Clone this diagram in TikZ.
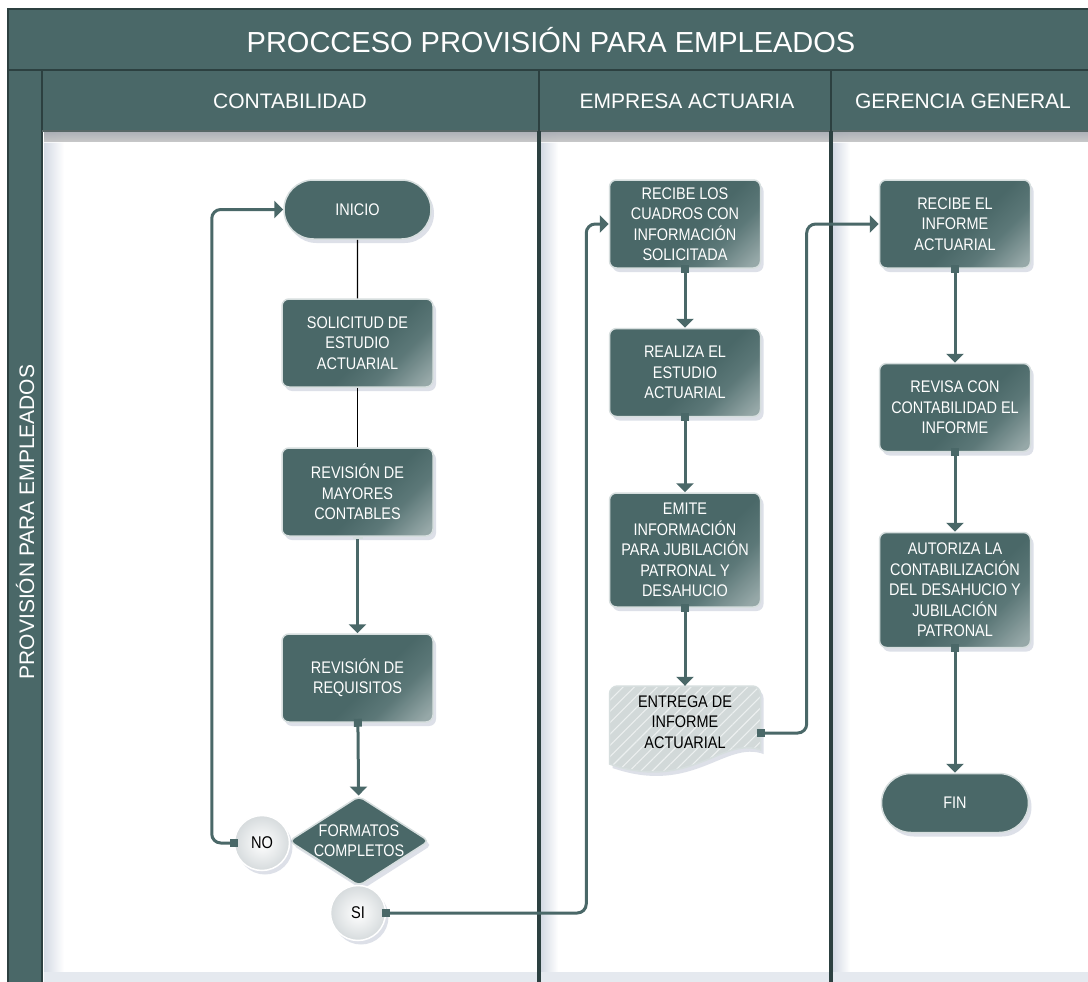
\documentclass[tikz,border=0pt]{standalone}
\usepackage{fontspec}
\setmainfont{Liberation Sans}
\newfontfamily\boxfont{Liberation Sans}[FakeStretch=0.86]
\usetikzlibrary{arrows.meta,shapes.geometric,shapes.misc,shadows,patterns.meta}

\definecolor{tealc}{RGB}{74,104,104}
\definecolor{darkc}{RGB}{44,64,64}
\definecolor{rimc}{RGB}{214,222,222}
\definecolor{midc}{RGB}{92,120,120}
\definecolor{glossc}{RGB}{150,168,168}
\definecolor{shadec}{RGB}{212,218,228}
\definecolor{docc}{RGB}{210,217,217}
\definecolor{hatchc}{RGB}{236,240,240}
\definecolor{shadowc}{RGB}{120,135,165}
\definecolor{circc}{RGB}{214,219,221}

\pgfdeclarehorizontalshading{boxgloss}{100bp}{color(0bp)=(tealc); color(55bp)=(tealc); color(67bp)=(midc); color(82bp)=(glossc); color(100bp)=(glossc)}

\begin{document}
\begin{tikzpicture}[x=1pt,y=-1pt,
  sh/.style={drop shadow={opacity=0.25, shadow xshift=3pt, shadow yshift=-4pt, fill=shadowc}},
  box/.style={rectangle, rounded corners=7pt, draw=rimc, line width=1.5pt, sh,
    shade, shading=boxgloss, shading angle=-45, text=white,
    font=\boxfont\fontsize{16.8}{20.5}\selectfont, align=center,
    minimum width=151pt, minimum height=88pt, inner sep=2pt},
  term/.style={rounded rectangle, draw=rimc, line width=1.5pt, sh, fill=tealc, text=white,
    font=\boxfont\fontsize{16.8}{20.5}\selectfont, minimum width=151pt, minimum height=59pt, inner sep=2pt},
  dec/.style={diamond, draw=rimc, line width=1.5pt, sh, fill=tealc, text=white, rounded corners=5pt,
    font=\boxfont\fontsize{16.8}{20}\selectfont, align=center, aspect=1.56,
    minimum width=134pt, minimum height=86pt, inner sep=0pt},
  ans/.style={circle, draw=white, line width=1.5pt, sh, shade, inner color=white, outer color=circc,
    text=black, font=\boxfont\fontsize{17}{20}\selectfont, minimum size=55pt, inner sep=0pt},
  doctext/.style={rectangle, text=black, font=\boxfont\fontsize{16.8}{20.5}\selectfont, align=center,
    minimum width=151pt, minimum height=72pt, inner sep=0pt},
  hdr/.style={text=white, font=\fontsize{21}{24}\selectfont, inner sep=0pt},
  title/.style={text=white, font=\fontsize{29}{32}\selectfont, inner sep=0pt},
  plain/.style={draw=black, line width=1.1pt},
  conn/.style={draw=tealc, line width=3pt,
    arrows={Square[length=8pt,width=8pt]-Triangle[width=17pt,length=9pt]}, shorten <=-4pt},
  connbar/.style={draw=tealc, line width=3pt,
    arrows={Bar[width=10pt,line width=2pt,color=rimc]-Triangle[width=17pt,length=9pt]}},
  loop/.style={conn, rounded corners=9pt}
]
\useasboundingbox (0,0) rectangle (1088,982);
\fill[white] (0,0) rectangle (1088,982);

% ---- pool frame ----
\fill[tealc] (7,9) rectangle (1088,70);
\fill[tealc] (7,70) rectangle (42,982);
\fill[tealc] (42,70) rectangle (1088,131);
% lane bodies shading
\fill[left color=shadec, right color=white] (44,131) rectangle (64,972);
\fill[left color=shadec, right color=white] (541,131) rectangle (558,972);
\fill[left color=shadec, right color=white] (833,131) rectangle (850,972);
\fill[top color=shadec, bottom color=white, opacity=0.7] (44,131) rectangle (1088,142);
\fill[shadec!60] (44,972) rectangle (1088,982);
% lines
\draw[darkc, line width=1.5pt] (7,9) -- (1088,9);
\draw[darkc, line width=1.5pt] (8,9) -- (8,982);
\draw[darkc, line width=2pt] (7,70) -- (1088,70);
\draw[darkc, line width=2pt] (42,70) -- (42,982);
\draw[darkc!80, line width=1.5pt] (42,131) -- (1088,131);
\draw[darkc, line width=2pt] (539,70) -- (539,131);
\draw[darkc, line width=2pt] (831,70) -- (831,131);
\draw[darkc, line width=4pt] (539,131) -- (539,982);
\draw[darkc, line width=4pt] (831,131) -- (831,982);

% ---- titles ----
\node[title] (ttl) at (551,40) {PROCCESO PROVISIÓN PARA EMPLEADOS};
\node[hdr] (h1) at (290,101) {CONTABILIDAD};
\node[hdr] (h2) at (687,101) {EMPRESA ACTUARIA};
\node[hdr] (h3) at (963,101) {GERENCIA GENERAL};
\node[hdr, rotate=90] (pool) at (25,522) {PROVISIÓN PARA EMPLEADOS};

% ---- CONTABILIDAD ----
\node[term] (inicio) at (357.5,209.5) {INICIO};
\node[box] (sol) at (357.5,343) {SOLICITUD DE\\ESTUDIO\\ACTUARIAL};
\node[box] (may) at (357.5,492) {REVISIÓN DE\\MAYORES\\CONTABLES};
\node[box] (req) at (357.5,678) {REVISIÓN DE\\REQUISITOS};
\node[dec] (fc) at (359,841) {FORMATOS\\COMPLETOS};
\node[ans] (no) at (262,843) {NO};
\node[ans] (si) at (358,913) {SI};

% ---- EMPRESA ACTUARIA ----
\node[box] (rc) at (685,224) {RECIBE LOS\\CUADROS CON\\INFORMACIÓN\\SOLICITADA};
\node[box] (re) at (685,372.5) {REALIZA EL\\ESTUDIO\\ACTUARIAL};
\node[box, minimum height=114pt] (em) at (685,550) {EMITE\\INFORMACIÓN\\PARA JUBILACIÓN\\PATRONAL Y\\DESAHUCIO};
\path[sh, preaction={fill=docc}, pattern={Lines[angle=45,distance=8pt,line width=1.1pt]}, pattern color=hatchc,
      draw=rimc, line width=1.5pt]
  (609.5,764) [rounded corners=8pt] -- (609.5,686) -- (760.5,686) [sharp corners] -- (760.5,750)
  .. controls (722,736) and (690,792) .. (609.5,764) -- cycle;
\node[doctext] (en) at (685,722) {ENTREGA DE\\INFORME\\ACTUARIAL};

% ---- GERENCIA GENERAL ----
\node[box] (ri) at (955,224) {RECIBE EL\\INFORME\\ACTUARIAL};
\node[box] (rv) at (955,407.5) {REVISA CON\\CONTABILIDAD EL\\INFORME};
\node[box, minimum height=115pt] (au) at (955,590) {AUTORIZA LA\\CONTABILIZACIÓN\\DEL DESAHUCIO Y\\JUBILACIÓN\\PATRONAL};
\node[term] (fin) at (955,803) {FIN};

% ---- connectors ----
\draw[plain] (inicio) -- (sol);
\draw[plain] (sol) -- (may);
\draw[connbar] (may) -- (req);
\draw[conn] (req) -- (fc);
\draw[loop] (no.west) -- ++(-22,0) |- (inicio.west);
\draw[loop] (si.east) -- ++(200,0) |- (rc.west);
\draw[conn] (rc) -- (re);
\draw[conn] (re) -- (em);
\draw[conn] (em) -- (en.north);
\draw[loop] ([yshift=-11pt]en.east) -- ++(46,0) |- (ri.west);
\draw[conn] (ri) -- (rv);
\draw[conn] (rv) -- (au);
\draw[conn] (au) -- (fin);
\end{tikzpicture}
\end{document}
